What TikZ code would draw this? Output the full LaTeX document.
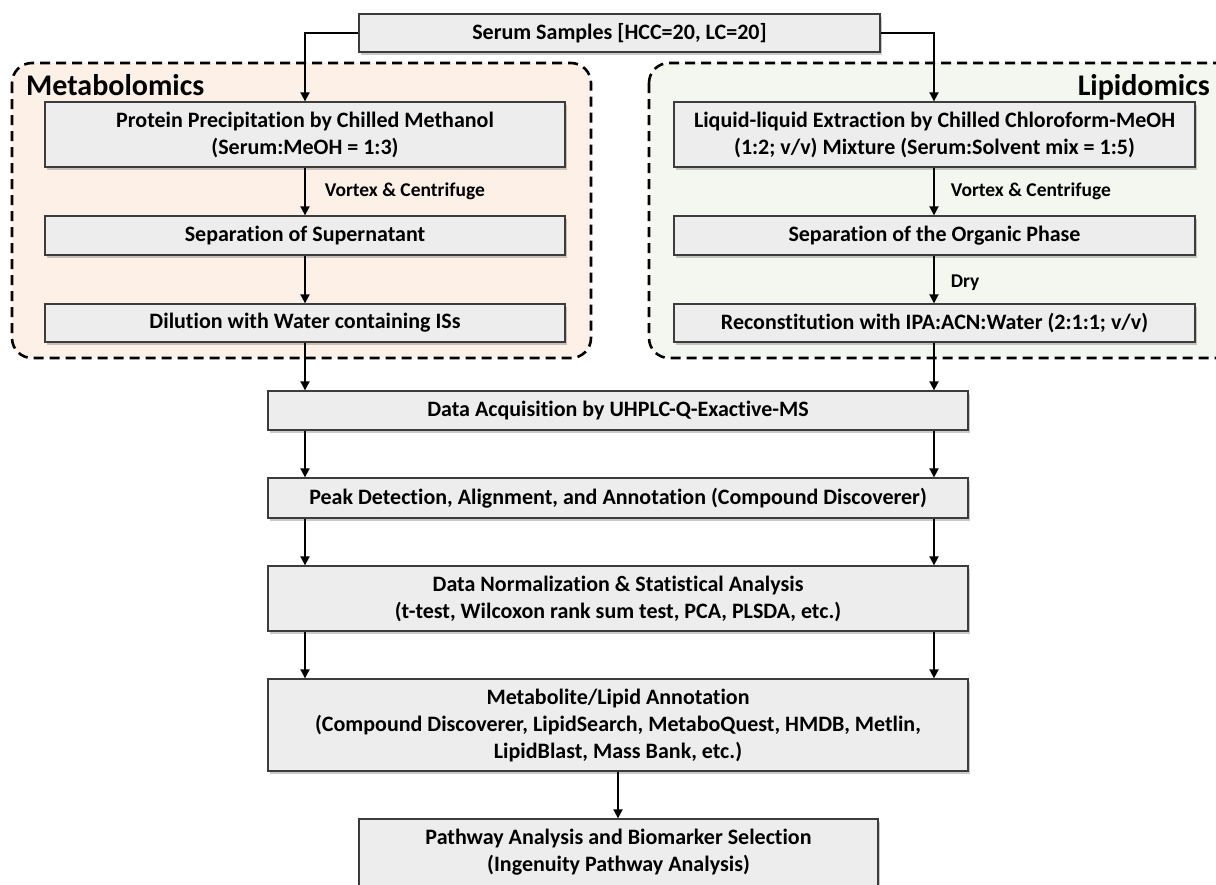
\documentclass[tikz,border=0pt]{standalone}
\usepackage{fontspec}
\setmainfont{Carlito}[Ligatures={NoCommon}]
\usetikzlibrary{arrows.meta,shadows}
\definecolor{boxfill}{HTML}{EDEDED}
\definecolor{boxline}{HTML}{3C3C3C}
\definecolor{metafill}{HTML}{FCF0E7}
\definecolor{lipfill}{HTML}{F4F7EF}
\tikzset{
 pbox/.style={draw=boxline, fill=boxfill, line width=1.3pt, inner sep=0pt, align=center,
   font=\fontsize{22}{27}\selectfont\bfseries,
   drop shadow={shadow xshift=2pt, shadow yshift=-3pt, opacity=0.35, fill=black!60}},
 flow/.style={line width=1.8pt, -{Triangle[width=9pt,length=9pt]}},
 group/.style={draw=black, dash pattern=on 10pt off 6pt, line width=2.6pt, rounded corners=20pt},
 steplabel/.style={font=\fontsize{19.5}{22}\selectfont\bfseries, anchor=west, inner sep=0pt},
 grouptitle/.style={font=\fontsize{30}{34}\selectfont\bfseries, inner sep=0pt}
}
\begin{document}
\begin{tikzpicture}[x=1pt,y=-1pt]
\useasboundingbox (0,0) rectangle (1216,884);
\clip (0,0) rectangle (1216,884);
% group containers
\draw[group, fill=metafill] (12,63) rectangle (591,358);
\draw[group, fill=lipfill] (649,63) rectangle (1240,358);
\node[grouptitle, anchor=base west] (tmeta) at (26,95) {Metabolomics};
\node[grouptitle, anchor=base east] (tlip) at (1210,95) {Lipidomics};
% column coordinates
\coordinate (L) at (305,0);
\coordinate (R) at (934,0);
% boxes
\node[pbox, minimum width=521pt, minimum height=38pt] (serum) at (619.5,33) {Serum Samples [HCC=20, LC=20]};
\node[pbox, minimum width=520pt, minimum height=65pt] (prot) at (305,134.5) {Protein Precipitation by Chilled Methanol\\(Serum:MeOH = 1:3)};
\node[pbox, minimum width=520pt, minimum height=39pt] (sup) at (305,235.5) {Separation of Supernatant};
\node[pbox, minimum width=520pt, minimum height=38pt] (dil) at (305,323) {Dilution with Water containing ISs};
\node[pbox, minimum width=521pt, minimum height=65pt] (lle) at (934.5,134.5) {Liquid-liquid Extraction by Chilled Chloroform-MeOH\\(1:2; v/v) Mixture (Serum:Solvent mix = 1:5)};
\node[pbox, minimum width=521pt, minimum height=39pt] (org) at (934.5,235.5) {Separation of the Organic Phase};
\node[pbox, minimum width=521pt, minimum height=38pt] (rec) at (934.5,323) {Reconstitution with IPA:ACN:Water (2:1:1; v/v)};
\node[pbox, minimum width=700pt, minimum height=39pt] (acq) at (618,410.5) {Data Acquisition by UHPLC-Q-Exactive-MS};
\node[pbox, minimum width=700pt, minimum height=40pt] (peak) at (618,498) {Peak Detection, Alignment, and Annotation (Compound Discoverer)};
\node[pbox, minimum width=700pt, minimum height=65pt] (norm) at (618,598.5) {Data Normalization \& Statistical Analysis\\(t-test, Wilcoxon rank sum test, PCA, PLSDA, etc.)};
\node[pbox, minimum width=700pt, minimum height=92pt] (annot) at (618,725) {Metabolite/Lipid Annotation\\(Compound Discoverer, LipidSearch, MetaboQuest, HMDB, Metlin,\\LipidBlast, Mass Bank, etc.)};
\node[pbox, minimum width=519pt, minimum height=67pt] (path) at (618.5,852.5) {Pathway Analysis and Biomarker Selection\\(Ingenuity Pathway Analysis)};
% connectors
\draw[flow] (serum.west) -| (prot.north);
\draw[flow] (serum.east) -| (lle.north -| R);
\draw[flow] (prot.south) -- (sup.north) node[steplabel, midway, xshift=19pt] (lv1) {Vortex \& Centrifuge};
\draw[flow] (sup.south) -- (dil.north);
\draw[flow] (lle.south -| R) -- (org.north -| R) node[steplabel, midway, xshift=16pt] (lv2) {Vortex \& Centrifuge};
\draw[flow] (org.south -| R) -- (rec.north -| R) node[steplabel, midway, xshift=16pt, yshift=-3pt] (ldry) {Dry};
\draw[flow] (dil.south) -- (acq.north -| L);
\draw[flow] (rec.south -| R) -- (acq.north -| R);
\draw[flow] (acq.south -| L) -- (peak.north -| L);
\draw[flow] (acq.south -| R) -- (peak.north -| R);
\draw[flow] (peak.south -| L) -- (norm.north -| L);
\draw[flow] (peak.south -| R) -- (norm.north -| R);
\draw[flow] (norm.south -| L) -- (annot.north -| L);
\draw[flow] (norm.south -| R) -- (annot.north -| R);
\draw[flow] (annot.south) -- (annot.south |- path.north);
\end{tikzpicture}
\end{document}
